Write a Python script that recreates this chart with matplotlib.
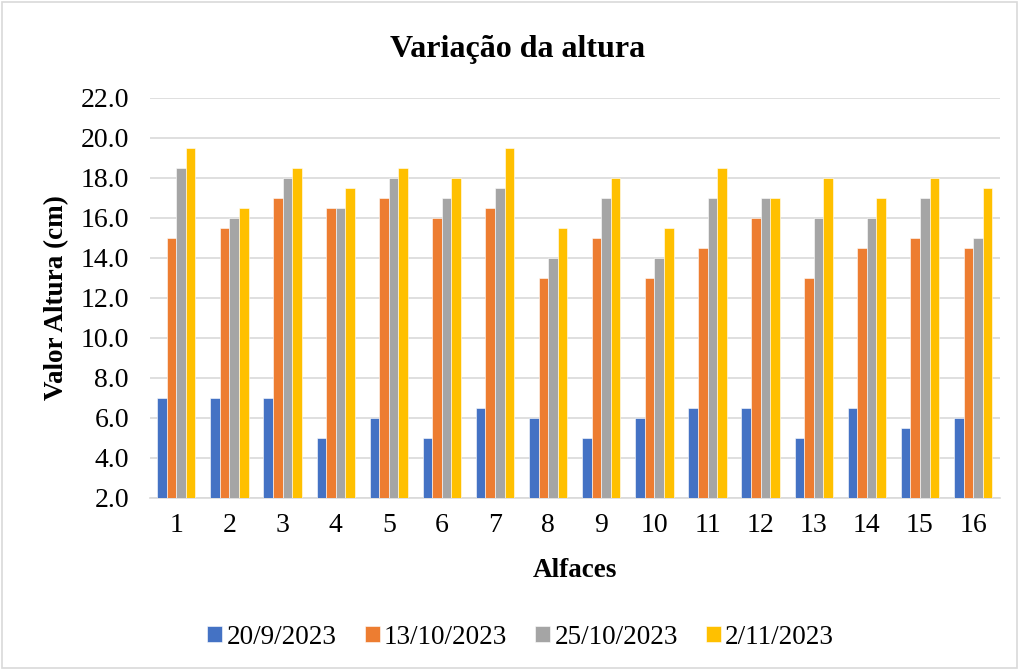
import numpy as np
import matplotlib.pyplot as plt
from matplotlib.patches import Rectangle

# Data
alfaces = [str(i) for i in range(1, 17)]
series_names = ["20/9/2023", "13/10/2023", "25/10/2023", "2/11/2023"]
h_20_09 = [7.0, 7.0, 7.0, 5.0, 6.0, 5.0, 6.5, 6.0, 5.0, 6.0, 6.5, 6.5, 5.0, 6.5, 5.5, 6.0]
h_13_10 = [15.0, 15.5, 17.0, 16.5, 17.0, 16.0, 16.5, 13.0, 15.0, 13.0, 14.5, 16.0, 13.0, 14.5, 15.0, 14.5]
h_25_10 = [18.5, 16.0, 18.0, 16.5, 18.0, 17.0, 17.5, 14.0, 17.0, 14.0, 17.0, 17.0, 16.0, 16.0, 17.0, 15.0]
h_02_11 = [19.5, 16.5, 18.5, 17.5, 18.5, 18.0, 19.5, 15.5, 18.0, 15.5, 18.5, 17.0, 18.0, 17.0, 18.0, 17.5]
colors = ["#4472C4", "#ED7D31", "#A5A5A5", "#FFC000"]

plt.rcParams['font.family'] = ['Liberation Serif', 'DejaVu Serif']

fig = plt.figure(figsize=(10.19, 6.70), dpi=100)
ax = fig.add_axes([0.147, 0.257, 0.834, 0.597])

x = np.arange(len(alfaces))
width = 0.18
base = 2.0
for i, (vals, name, c) in enumerate(zip([h_20_09, h_13_10, h_25_10, h_02_11], series_names, colors)):
    vals = np.array(vals)
    ax.bar(x + (i - 1.5) * width, vals - base, width, bottom=base, color=c,
           label=name, edgecolor='white', linewidth=0.4, zorder=3)

ax.set_ylim(2.0, 22.0)
ax.set_yticks(np.arange(2, 22.1, 2))
ax.set_yticklabels([f"{v:.1f}" for v in np.arange(2, 22.1, 2)])
ax.set_xlim(-0.5, len(alfaces) - 0.5)
ax.set_xticks(x)
ax.set_xticklabels(alfaces)
ax.tick_params(axis='both', length=0, labelsize=20)
ax.tick_params(axis='x', pad=11)
ax.tick_params(axis='y', pad=15)
ax.yaxis.grid(True, color='#D9D9D9', linewidth=1.2, zorder=0)
for s in ['top', 'right', 'left']:
    ax.spines[s].set_visible(False)
ax.spines['bottom'].set_color('#D9D9D9')
ax.spines['bottom'].set_linewidth(1.2)

ax.set_xlabel("Alfaces", fontsize=19.5, fontweight='bold', labelpad=14)
ax.set_ylabel("Valor Altura (cm)", fontsize=19.5, fontweight='bold', labelpad=8)
fig.text(0.508, 0.926, "Variação da altura", ha='center', va='center',
         fontsize=23, fontweight='bold')

fig.legend(loc='center', bbox_to_anchor=(0.511, 0.049), ncol=4, frameon=False,
           fontsize=19.5, handlelength=0.55, handleheight=0.55, handletextpad=0.15,
           columnspacing=1.05)

fig.patches.append(Rectangle((0.002, 0.003), 0.996, 0.994, transform=fig.transFigure,
                             fill=False, edgecolor='#D9D9D9', linewidth=1.2))

fig.savefig("out.png", dpi=100)
